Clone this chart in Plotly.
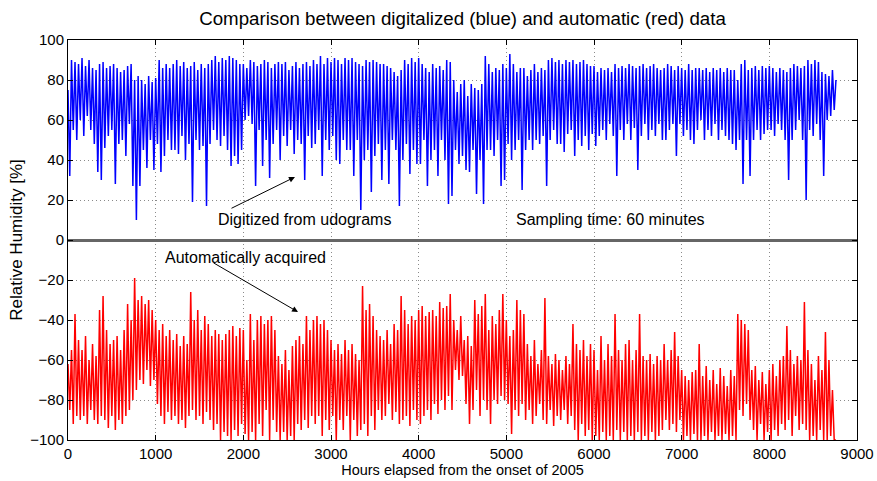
import plotly.graph_objects as go

# sample times (hours), one value every 20 h
hours = list(range(0, 8761, 20))

digitized = [
    75, 32, 90, 55, 89, 50, 88, 60, 91, 52, 87, 62, 90, 55, 86, 48, 85, 34, 88, 30,
    89, 46, 86, 52, 87, 55, 88, 28, 86, 48, 84, 50, 85, 42, 87, 58, 88, 27, 80, 10,
    82, 27, 80, 45, 78, 36, 82, 50, 79, 35, 81, 48, 90, 34, 86, 42, 88, 50, 86, 45,
    88, 45, 90, 43, 87, 52, 89, 40, 86, 48, 87, 19, 89, 50, 85, 45, 88, 47, 86, 17,
    88, 48, 90, 55, 92, 50, 89, 47, 91, 52, 90, 45, 92, 37, 91, 42, 90, 38, 88, 45,
    88, 60, 86, 62, 90, 58, 89, 27, 87, 55, 88, 37, 90, 50, 89, 31, 86, 48, 88, 55,
    89, 40, 88, 52, 89, 47, 85, 55, 87, 43, 89, 50, 86, 48, 88, 30, 89, 52, 87, 46,
    90, 48, 88, 55, 92, 32, 88, 50, 91, 45, 89, 52, 91, 40, 90, 38, 88, 50, 91, 45,
    90, 45, 91, 32, 89, 50, 88, 15, 87, 40, 90, 45, 89, 24, 90, 42, 89, 48, 88, 30,
    88, 45, 87, 28, 86, 50, 84, 45, 82, 17, 85, 40, 90, 48, 88, 33, 91, 45, 89, 38,
    91, 38, 88, 50, 86, 27, 84, 40, 88, 45, 86, 32, 87, 50, 85, 40, 90, 18, 89, 22,
    80, 45, 74, 38, 78, 42, 80, 35, 72, 34, 78, 45, 76, 23, 75, 40, 78, 18, 92, 45,
    88, 45, 84, 42, 86, 50, 85, 27, 88, 30, 86, 48, 93, 40, 88, 45, 84, 50, 86, 25,
    86, 45, 82, 50, 85, 45, 88, 50, 84, 48, 86, 52, 85, 27, 90, 50, 91, 55, 89, 48,
    90, 48, 88, 44, 90, 53, 89, 55, 90, 42, 88, 50, 89, 47, 90, 52, 88, 45, 87, 53,
    87, 47, 84, 52, 86, 55, 85, 50, 86, 58, 84, 52, 88, 32, 86, 55, 87, 50, 86, 58,
    88, 50, 87, 56, 86, 35, 87, 52, 88, 58, 86, 50, 87, 55, 88, 52, 86, 58, 85, 50,
    86, 50, 88, 55, 87, 58, 85, 42, 87, 58, 86, 52, 85, 55, 88, 50, 85, 48, 86, 55,
    86, 60, 85, 50, 86, 55, 84, 52, 86, 58, 85, 50, 86, 55, 84, 52, 86, 50, 85, 48,
    85, 45, 80, 50, 88, 28, 90, 50, 85, 32, 86, 50, 87, 55, 85, 50, 87, 53, 86, 55,
    87, 55, 86, 52, 84, 58, 86, 55, 85, 50, 84, 30, 86, 50, 88, 55, 87, 60, 86, 50,
    87, 20, 90, 55, 88, 52, 90, 58, 89, 50, 84, 32, 83, 60, 82, 62, 85, 65, 80,
]

automatic = [
    -62, -85, -55, -92, -37, -88, -50, -90, -55, -88, -48, -92, -60, -85, -52, -90, -58, -92, -35, -88,
    -28, -90, -45, -94, -52, -88, -50, -95, -48, -90, -55, -92, -45, -88, -32, -85, -40, -80, -19, -75,
    -30, -70, -28, -72, -32, -65, -30, -73, -35, -70, -40, -82, -45, -88, -42, -92, -48, -86, -45, -90,
    -50, -88, -47, -92, -53, -90, -48, -94, -52, -88, -26, -85, -40, -90, -35, -88, -45, -92, -38, -86,
    -42, -90, -48, -95, -45, -92, -47, -100, -50, -96, -47, -98, -45, -100, -43, -95, -48, -98, -44, -92,
    -45, -97, -60, -100, -37, -96, -50, -100, -40, -92, -38, -98, -42, -85, -40, -100, -38, -90, -45, -96,
    -58, -100, -62, -96, -55, -100, -65, -98, -53, -100, -50, -92, -48, -95, -52, -90, -38, -94, -45, -88,
    -40, -92, -38, -88, -42, -98, -40, -90, -45, -95, -50, -88, -55, -100, -52, -90, -57, -95, -50, -88,
    -55, -100, -52, -90, -57, -98, -60, -95, -23, -92, -35, -98, -32, -88, -38, -95, -45, -85, -48, -90,
    -50, -88, -45, -82, -52, -90, -42, -86, -45, -92, -28, -90, -35, -88, -42, -93, -38, -85, -40, -90,
    -35, -92, -33, -88, -38, -85, -36, -90, -35, -82, -38, -87, -31, -80, -34, -85, -33, -78, -27, -85,
    -40, -65, -45, -70, -38, -68, -50, -82, -48, -92, -53, -85, -30, -75, -37, -88, -33, -80, -27, -85,
    -45, -92, -38, -80, -42, -82, -35, -78, -27, -80, -40, -82, -48, -97, -45, -85, -30, -88, -35, -82,
    -37, -90, -52, -85, -58, -92, -50, -88, -62, -82, -55, -90, -29, -92, -58, -85, -62, -93, -57, -88,
    -60, -90, -65, -85, -58, -92, -62, -88, -42, -95, -52, -100, -55, -92, -50, -98, -58, -95, -52, -100,
    -55, -98, -65, -100, -48, -96, -60, -100, -52, -98, -58, -100, -37, -95, -55, -100, -60, -96, -52, -100,
    -50, -98, -60, -100, -55, -96, -37, -100, -58, -98, -60, -100, -57, -96, -62, -100, -58, -98, -60, -95,
    -52, -90, -60, -95, -55, -92, -46, -96, -58, -90, -65, -100, -68, -98, -70, -100, -66, -97, -65, -100,
    -52, -100, -68, -98, -63, -100, -70, -96, -65, -100, -72, -98, -64, -100, -68, -97, -73, -100, -65, -98,
    -68, -100, -37, -85, -40, -88, -42, -82, -45, -90, -65, -95, -63, -100, -70, -92, -66, -100, -72, -96,
    -65, -100, -62, -95, -68, -98, -60, -92, -58, -95, -43, -90, -55, -98, -62, -88, -58, -95, -60, -92,
    -31, -95, -55, -100, -62, -98, -70, -100, -58, -95, -65, -100, -46, -100, -60, -98, -75, -100, -100,
]

if len(digitized) != len(hours) or len(automatic) != len(hours):
    raise ValueError(f"lengths {len(hours)} {len(digitized)} {len(automatic)}")

x_ticks = list(range(0, 9001, 1000))
y_ticks = list(range(-100, 101, 20))

FONT = "Liberation Sans, Arial, sans-serif"

fig = go.Figure()
fig.add_trace(go.Scatter(x=hours, y=digitized, mode="lines",
                         line=dict(color="#0000ff", width=1.5), showlegend=False))
fig.add_trace(go.Scatter(x=hours, y=automatic, mode="lines",
                         line=dict(color="#ff0000", width=1.5), showlegend=False))

axis_common = dict(
    showline=True, linecolor="black", linewidth=1, mirror="allticks",
    ticks="inside", ticklen=5, tickcolor="black",
    showgrid=True, gridcolor="#8a8a8a", griddash="1px,3px", gridwidth=1,
    tickfont=dict(family=FONT, size=15, color="black"),
    automargin=False,
)

fig.update_layout(
    width=877, height=481,
    margin=dict(l=68, r=20, t=40, b=41, autoexpand=False),
    paper_bgcolor="white", plot_bgcolor="white",
    font=dict(family=FONT, color="black"),
    title=dict(text="Comparison between digitalized (blue) and automatic (red) data",
               x=0.5, xanchor="center", xref="paper", y=0.962, yanchor="middle",
               font=dict(family=FONT, size=18.7, color="black")),
    xaxis=dict(range=[0, 9000], tickvals=x_ticks, zeroline=False,
               title=dict(text="Hours elapsed from the onset of 2005", standoff=0,
                          font=dict(family=FONT, size=14.5)),
               **axis_common),
    yaxis=dict(range=[-100, 100], tickvals=y_ticks,
               zeroline=True, zerolinecolor="#666666", zerolinewidth=2.5,
               title=dict(text="Relative Humidity [%]", standoff=3,
                          font=dict(family=FONT, size=17)),
               **axis_common),
)

ann_font = dict(family=FONT, size=16, color="black")
fig.add_annotation(x=2700, y=10.5, text="Digitized from udograms", showarrow=False,
                   font=ann_font, xanchor="center", yanchor="middle")
fig.add_annotation(x=6183, y=10.5, text="Sampling time: 60 minutes", showarrow=False,
                   font=ann_font, xanchor="center", yanchor="middle")
fig.add_annotation(x=2030, y=-8.5, text="Automatically acquired", showarrow=False,
                   font=ann_font, xanchor="center", yanchor="middle")
fig.add_annotation(x=2589, y=31.5, ax=1848, ay=15.5, axref="x", ayref="y",
                   xref="x", yref="y", text="", showarrow=True,
                   arrowhead=2, arrowsize=1.2, arrowwidth=1, arrowcolor="black")
fig.add_annotation(x=2624, y=-36, ax=1643, ay=-11, axref="x", ayref="y",
                   xref="x", yref="y", text="", showarrow=True,
                   arrowhead=2, arrowsize=1.2, arrowwidth=1, arrowcolor="black")

fig.write_html("out.html")
